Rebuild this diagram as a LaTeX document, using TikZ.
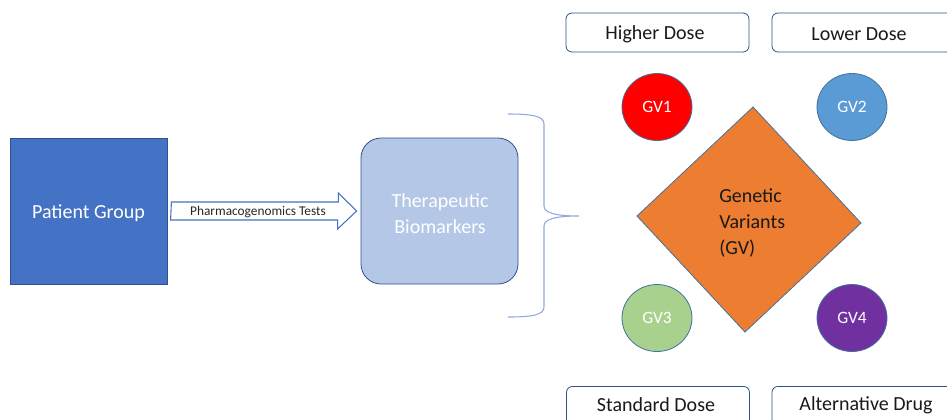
\documentclass[tikz,border=0pt]{standalone}
\usepackage{fontspec}
\setmainfont{Carlito}
\usetikzlibrary{shapes.geometric,calc}
\definecolor{pgfill}{HTML}{4472C4}
\definecolor{pgline}{HTML}{2F528F}
\definecolor{tbfill}{HTML}{B4C7E7}
\definecolor{gvline}{HTML}{41719C}
\definecolor{gvone}{HTML}{FF0000}
\definecolor{gvtwo}{HTML}{5B9BD5}
\definecolor{gvthree}{HTML}{A9D18E}
\definecolor{gvfour}{HTML}{7030A0}
\definecolor{orangefill}{HTML}{ED7D31}
\definecolor{bracecol}{HTML}{8FAADC}
\tikzset{
  bigtext/.style={font=\fontsize{15}{19.5}\selectfont},
  patbox/.style={rectangle, draw=pgline, fill=pgfill, line width=0.6pt, minimum width=117.75pt, minimum height=109.5pt, inner sep=0pt},
  tbbox/.style={rectangle, rounded corners=15pt, draw=pgline, fill=tbfill, line width=0.6pt, minimum width=117.75pt, minimum height=109.5pt, inner sep=0pt},
  dosebox/.style={rectangle, rounded corners=4.5pt, draw=pgline, fill=white, line width=0.6pt, minimum width=137.25pt, minimum height=29.25pt, inner sep=0pt},
  dosetext/.style={bigtext, text=black!90, inner sep=0pt},
  gv/.style={ellipse, draw=gvline, line width=0.6pt, minimum width=52.5pt, minimum height=50.25pt, inner sep=0pt, text=white, font=\fontsize{13}{15}\selectfont},
  blockarrow/.style={draw=pgfill, fill=white, line width=0.8pt, line join=miter},
  bracestyle/.style={draw=bracecol, line width=0.8pt},
  diam/.style={draw=gvline, fill=orangefill, line width=0.6pt},
}
\begin{document}
\begin{tikzpicture}[x=0.75pt,y=-0.75pt]
\useasboundingbox (0,0) rectangle (947,419);
\clip (0,0) rectangle (947,419);
\fill[white] (0,0) rectangle (947,419);

\node[patbox] (pg) at (88.5,211) {};
\node[bigtext, text=white, inner sep=0pt] (pgl) at (88.5,213) {Patient Group};
\node[tbbox] (tb) at (439.5,211) {};
\node[bigtext, text=white, align=center, inner sep=0pt] (tbt) at (440,214) {Therapeutic\\Biomarkers};

% block arrow between the two boxes
\draw[blockarrow] ($(pg.east)+(4,-9)$) -- ++(167,0) -- ++(0,-9)
  -- ($(tb.west)+(-4,0)$) -- ++(-19,18) -- ++(0,-9) -- ++(-167,0) -- cycle;
\node[font=\fontsize{10}{12}\selectfont, text=black!85, inner sep=0pt] (pgt) at (258,212) {Pharmacogenomics Tests};

% brace
\draw[bracestyle] (508,114) .. controls (532,114) and (544,116) .. (544,124)
  -- (544,206) .. controls (544,213) and (556,216) .. (579,216)
  .. controls (556,216) and (544,219) .. (544,226)
  -- (544,307) .. controls (544,315) and (532,317) .. (508,317);

% diamond
\coordinate (dt) at (753,107);
\coordinate (dl) at (637,216);
\coordinate (db) at (745,332);
\coordinate (dr) at (861,223);
\draw[diam] (dt) -- (dl) -- (db) -- (dr) -- cycle;
\node[bigtext, anchor=west, align=left, text=black!90, inner sep=0pt] (gvt) at (719,223) {Genetic\\Variants\\(GV)};

% variant circles
\node[gv, fill=gvone] (gv1) at (657,107) {\raisebox{-1pt}{GV1}};
\node[gv, fill=gvtwo] (gv2) at (852,107) {\raisebox{-1pt}{GV2}};
\node[gv, fill=gvthree] (gv3) at (657,318) {\raisebox{-1pt}{GV3}};
\node[gv, fill=gvfour] (gv4) at (852,318) {\raisebox{-1pt}{GV4}};

% dose boxes
\node[dosebox] (hd) at (657.5,32.5) {};
\node[dosetext] (hdt) at (655,34) {Higher Dose};
\node[dosebox] (ld) at (863.5,32.5) {};
\node[dosetext] (ldt) at (859,34) {Lower Dose};
\node[dosebox, anchor=north] (sd) at (658,386) {};
\node[dosetext] (sdt) at (656,405) {Standard Dose};
\node[dosebox, anchor=north] (ad) at (863.5,386) {};
\node[dosetext] (adt) at (866,405) {Alternative Drug};
\end{tikzpicture}
\end{document}
